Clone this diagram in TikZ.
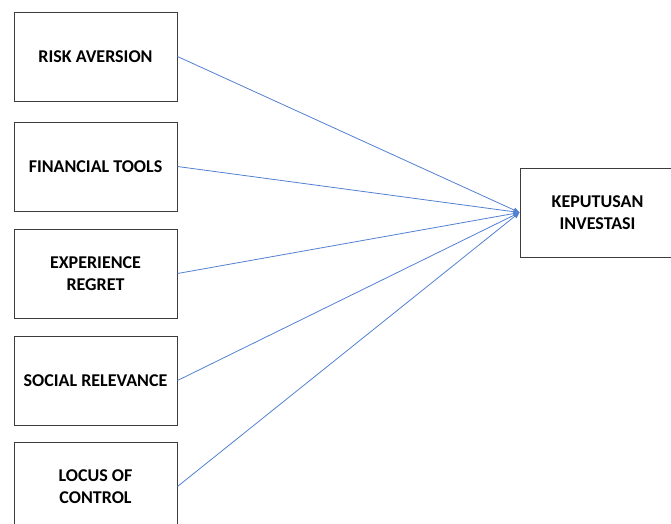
\documentclass[tikz,border=0pt]{standalone}
\usepackage{fontspec}
\setmainfont{Carlito}
\usetikzlibrary{arrows.meta}
\definecolor{linkblue}{RGB}{82,128,210}
\definecolor{boxgray}{RGB}{60,60,60}
\begin{document}
\begin{tikzpicture}[x=1pt,y=-1pt,
  varbox/.style={draw=boxgray, line width=1pt, minimum width=163pt, minimum height=89pt,
    align=center, font=\fontsize{18}{21.5}\selectfont\bfseries, inner sep=0pt},
  link/.style={draw=linkblue, line width=0.8pt, -{Triangle[length=6pt,width=5pt]}}]
\useasboundingbox (0,0) rectangle (671,523);
\begin{scope}
\clip (0,0) rectangle (671,523);
\node[varbox] (ra) at (95.5,56.5) {RISK AVERSION};
\node[varbox] (ft) at (95.5,166.5) {FINANCIAL TOOLS};
\node[varbox] (er) at (95.5,273.5) {EXPERIENCE\\REGRET};
\node[varbox] (sr) at (95.5,380.5) {SOCIAL RELEVANCE};
\node[varbox] (lc) at (95.5,486.5) {LOCUS OF\\CONTROL};
\node[varbox, minimum width=155pt] (ki) at (597.5,212.5) {KEPUTUSAN\\INVESTASI};
\foreach \s in {ra,ft,er,sr,lc}
  \draw[link] (\s.east) -- (ki.west);
\end{scope}
\end{tikzpicture}
\end{document}
